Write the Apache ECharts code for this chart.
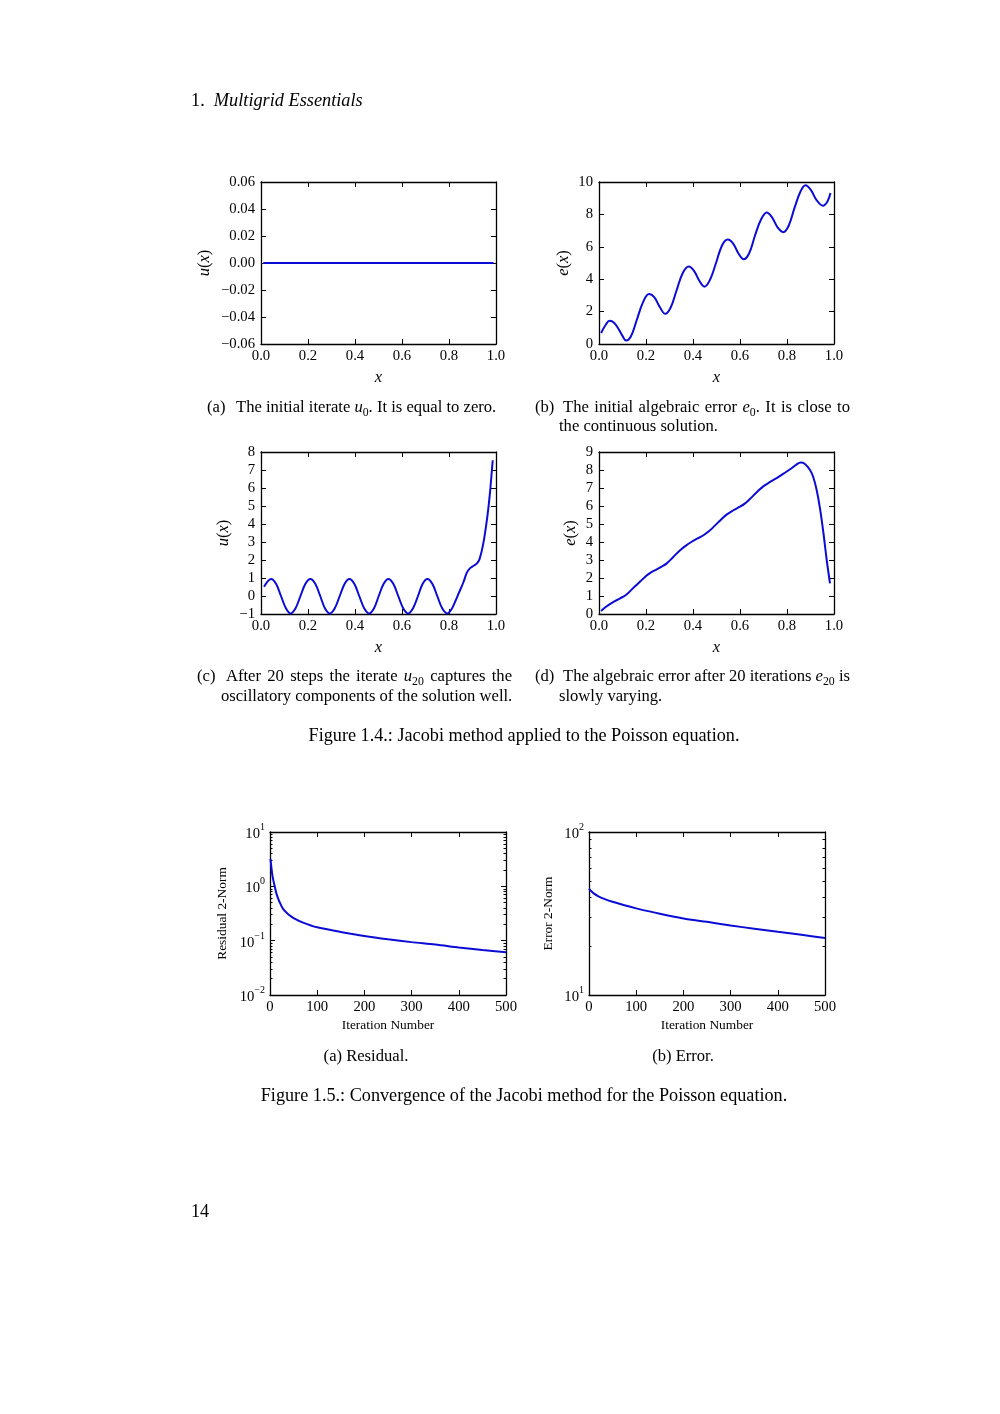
<!DOCTYPE html>
<html><head><meta charset="utf-8">
<script src="https://cdn.jsdelivr.net/npm/echarts/dist/echarts.min.js"></script>
<style>html,body{margin:0;padding:0;background:#fff}#c{width:1000px;height:1414px}</style>
</head><body><div id="c"></div>
<script>
// ---------- data ----------
// (a) initial iterate u0
const u0X = [0.01, 0.25, 0.5, 0.75, 0.99];
const u0Y = [0, 0, 0, 0, 0];
// (b) initial algebraic error e0
const e0X = [0.009,0.03,0.045,0.065,0.085,0.10,0.115,0.135,0.16,0.188,0.213,0.235,0.258,0.282,0.305,0.33,0.357,0.382,0.405,0.427,0.449,0.472,0.498,0.524,0.548,0.571,0.593,0.616,0.639,0.664,0.69,0.714,0.737,0.76,0.784,0.807,0.832,0.857,0.879,0.902,0.925,0.953,0.972,0.985];
const e0Y = [0.68,1.22,1.43,1.3,0.88,0.5,0.22,0.45,1.45,2.6,3.08,2.9,2.3,1.86,2.25,3.3,4.4,4.78,4.5,3.9,3.54,3.95,5.0,6.1,6.45,6.2,5.6,5.23,5.6,6.7,7.7,8.12,7.8,7.2,6.9,7.3,8.4,9.4,9.8,9.5,8.9,8.54,8.8,9.32];
// (c) iterate after 20 steps u20
const u20X = [0.013,0.043,0.064,0.085,0.106,0.126,0.147,0.168,0.189,0.21,0.231,0.252,0.272,0.293,0.314,0.335,0.356,0.376,0.397,0.418,0.439,0.46,0.481,0.501,0.522,0.542,0.563,0.584,0.605,0.626,0.647,0.668,0.688,0.708,0.729,0.75,0.771,0.793,0.81,0.826,0.843,0.861,0.876,0.89,0.905,0.918,0.93,0.946,0.963,0.974,0.986];
const u20Y = [0.52,0.95,0.68,0.0,-0.68,-0.97,-0.68,0.0,0.68,0.95,0.68,0.0,-0.68,-0.97,-0.68,0.0,0.68,0.95,0.68,0.0,-0.68,-0.97,-0.68,0.0,0.68,0.95,0.68,0.0,-0.68,-0.97,-0.68,0.0,0.68,0.95,0.68,0.0,-0.68,-0.97,-0.75,-0.32,0.2,0.75,1.3,1.55,1.68,1.8,2.05,2.92,4.4,5.69,7.54];
// (d) algebraic error after 20 iterations e20
const e20X = [0.009,0.03,0.06,0.09,0.116,0.15,0.175,0.199,0.22,0.244,0.265,0.287,0.315,0.344,0.37,0.393,0.42,0.443,0.47,0.493,0.52,0.543,0.57,0.6,0.62,0.642,0.67,0.699,0.73,0.756,0.785,0.813,0.84,0.858,0.875,0.898,0.912,0.926,0.94,0.955,0.969,0.983];
const e20Y = [0.17,0.4,0.66,0.87,1.07,1.5,1.8,2.1,2.3,2.47,2.62,2.8,3.15,3.53,3.8,4.0,4.2,4.36,4.62,4.91,5.25,5.52,5.75,5.96,6.13,6.39,6.75,7.09,7.35,7.55,7.8,8.04,8.3,8.41,8.35,8.0,7.6,6.9,5.9,4.5,3.0,1.7];
// Figure 1.5 (a) residual 2-norm
const resIter = [1,3,5,7,10,14,20,28,40,50,70,100,150,200,250,300,350,400,450,500];
const resNorm = [3.2,2.2,1.6,1.3,1.0,0.72,0.52,0.38,0.30,0.26,0.215,0.176,0.145,0.122,0.106,0.094,0.085,0.075,0.067,0.061];
// Figure 1.5 (b) error 2-norm
const errIter = [0,5,10,20,35,50,75,100,150,200,250,300,350,400,450,500];
const errNorm = [45,43.3,42.0,40.3,38.6,37.3,35.5,34.0,31.5,29.5,28.1,26.7,25.5,24.4,23.4,22.4];
// tick settings
const xTicks01 = {min:0, max:1, interval:0.2};
const iterTicks = {min:0, max:500, interval:100};

// ---------- build ----------
const FONT = 'Liberation Serif';
const BLUE = '#0b0bd6';
const TICKFS = 14.7;
const grids = [], xAxes = [], yAxes = [], series = [];
const minus = s => String(s).replace('-', '\u2212');
const fix = d => v => minus(Number(v).toFixed(d));
const logFmt = v => '{b|10}{s|' + minus(Math.round(Math.log10(v))) + '}';
const logRich = {
  b: {fontFamily: FONT, fontSize: TICKFS, color: '#000', lineHeight: 19, verticalAlign: 'bottom'},
  s: {fontFamily: FONT, fontSize: 10, color: '#000', lineHeight: 11, verticalAlign: 'top'}
};
const NFS = 16.5;
const nameRich = {
  i: {fontFamily: FONT, fontSize: NFS, fontStyle: 'italic', color: '#000'},
  n: {fontFamily: FONT, fontSize: NFS, color: '#000'}
};
function zip(xs, ys) { return xs.map((x, i) => [x, ys[i]]); }
function axisBase(gi) {
  return {
    gridIndex: gi,
    axisLine: {show: true, onZero: false, lineStyle: {color: '#000', width: 1.3}},
    splitLine: {show: false},
    axisTick: {show: true, inside: true, length: 5, lineStyle: {color: '#000', width: 1}},
    animation: false
  };
}
function addPanel(p) {
  const gi = grids.length;
  grids.push({left: p.box[0], top: p.box[1], width: p.box[2], height: p.box[3], containLabel: false});
  const xi = xAxes.length, yi = yAxes.length;
  const lab = {show: true, color: '#000', fontFamily: FONT, fontSize: TICKFS, showMinLabel: true, showMaxLabel: true};
  xAxes.push(Object.assign(axisBase(gi), {
    type: 'value', position: 'bottom', min: p.x.min, max: p.x.max, interval: p.x.interval,
    axisLabel: Object.assign({}, lab, {margin: 5, formatter: p.xfmt}),
    name: p.xname, nameLocation: 'middle', nameGap: p.xgap,
    nameTextStyle: p.xnameStyle
  }));
  xAxes.push(Object.assign(axisBase(gi), {
    type: 'value', position: 'top', min: p.x.min, max: p.x.max, interval: p.x.interval,
    axisLabel: {show: false}
  }));
  const yCommon = p.log
    ? {type: 'log', logBase: 10, min: p.y.min, max: p.y.max,
       minorTick: {show: true, splitNumber: 9, length: 2.5, lineStyle: {color: '#000', width: 1}}}
    : {type: 'value', min: p.y.min, max: p.y.max, interval: p.y.interval};
  yAxes.push(Object.assign(axisBase(gi), yCommon, {
    position: 'left',
    axisLabel: p.log ? Object.assign({}, lab, {margin: 5, formatter: logFmt, rich: logRich})
                     : Object.assign({}, lab, {margin: 6, formatter: p.yfmt}),
    name: p.yname, nameLocation: 'middle', nameGap: p.ygap, nameRotate: 90,
    nameTextStyle: p.ynameStyle
  }));
  yAxes.push(Object.assign(axisBase(gi), yCommon, {position: 'right', axisLabel: {show: false}}));
  series.push({
    type: 'line', xAxisIndex: xi, yAxisIndex: yi, data: zip(p.xs, p.ys),
    showSymbol: false, smooth: p.smooth, silent: true, animation: false,
    lineStyle: {color: BLUE, width: 2}, clip: true
  });
}
const mathName = {rich: nameRich, fontFamily: FONT, fontSize: NFS, color: '#000'};
const xName = {fontFamily: FONT, fontSize: NFS, fontStyle: 'italic', color: '#000'};
const textName = {fontFamily: FONT, fontSize: 13.4, color: '#000'};

addPanel({box: [261, 182, 235, 162], x: xTicks01, y: {min: -0.06, max: 0.06, interval: 0.02},
  xfmt: fix(1), yfmt: fix(2), xname: 'x', xgap: 25, xnameStyle: xName,
  yname: '{i|u}{n|(}{i|x}{n|)}', ygap: 48, ynameStyle: mathName, xs: u0X, ys: u0Y, smooth: false});
addPanel({box: [599, 182, 235, 162], x: xTicks01, y: {min: 0, max: 10, interval: 2},
  xfmt: fix(1), yfmt: fix(0), xname: 'x', xgap: 25, xnameStyle: xName,
  yname: '{i|e}{n|(}{i|x}{n|)}', ygap: 27, ynameStyle: mathName, xs: e0X, ys: e0Y, smooth: 0.4});
addPanel({box: [261, 452, 235, 162], x: xTicks01, y: {min: -1, max: 8, interval: 1},
  xfmt: fix(1), yfmt: fix(0), xname: 'x', xgap: 25, xnameStyle: xName,
  yname: '{i|u}{n|(}{i|x}{n|)}', ygap: 29, ynameStyle: mathName, xs: u20X, ys: u20Y, smooth: 0.35});
addPanel({box: [599, 452, 235, 162], x: xTicks01, y: {min: 0, max: 9, interval: 1},
  xfmt: fix(1), yfmt: fix(0), xname: 'x', xgap: 25, xnameStyle: xName,
  yname: '{i|e}{n|(}{i|x}{n|)}', ygap: 20, ynameStyle: mathName, xs: e20X, ys: e20Y, smooth: 0.4});
addPanel({box: [270, 832, 236, 163], x: iterTicks, y: {min: 0.01, max: 10}, log: true,
  xfmt: v => String(v), xname: 'Iteration Number', xgap: 24, xnameStyle: textName,
  yname: 'Residual 2-Norm', ygap: 41, ynameStyle: textName, xs: resIter, ys: resNorm, smooth: 0.3});
addPanel({box: [589, 832, 236, 163], x: iterTicks, y: {min: 10, max: 100}, log: true,
  xfmt: v => String(v), xname: 'Iteration Number', xgap: 24, xnameStyle: textName,
  yname: 'Error 2-Norm', ygap: 34, ynameStyle: textName, xs: errIter, ys: errNorm, smooth: 0.3});

// ---------- page texts ----------
const CAP = 16.6;
const capRich = {
  t: {fontFamily: FONT, fontSize: CAP, color: '#000', lineHeight: 22},
  i: {fontFamily: FONT, fontSize: CAP, fontStyle: 'italic', color: '#000', lineHeight: 22},
  sub: {fontFamily: FONT, fontSize: 11.8, color: '#000', lineHeight: 13, verticalAlign: 'bottom'},
  h: {fontFamily: FONT, fontSize: 18.3, color: '#000', lineHeight: 24},
  hi: {fontFamily: FONT, fontSize: 18.3, fontStyle: 'italic', color: '#000', lineHeight: 24},
  f: {fontFamily: FONT, fontSize: 18.2, color: '#000', lineHeight: 24}
};
function txt(x, y, text, align) {
  return {type: 'text', silent: true, style: {x: x, y: y, text: text, rich: capRich,
    align: align || 'left', verticalAlign: 'middle', fontFamily: FONT, fontSize: CAP, fill: '#000'}};
}
// measuring helper for justified caption lines
const mctx = document.createElement('canvas').getContext('2d');
function richWidth(s) {
  let w = 0; const re = /\{(\w+)\|([^}]*)\}/g; let m;
  while ((m = re.exec(s))) {
    const st = capRich[m[1]];
    mctx.font = (st.fontStyle === 'italic' ? 'italic ' : '') + st.fontSize + 'px "' + FONT + '"';
    w += mctx.measureText(m[2]).width;
  }
  return w;
}
function justify(x0, x1, y, words) {
  const ws = words.map(richWidth);
  const total = ws.reduce((a, b) => a + b, 0);
  const gap = (x1 - x0 - total) / (words.length - 1);
  const out = []; let x = x0;
  words.forEach((w, i) => { out.push(txt(x, y, w)); x += ws[i] + gap; });
  return out;
}
const T = s => s.split(' ').map(w => '{t|' + w + '}');
const graphics = [
  txt(191, 101, '{h|1.  }{hi|Multigrid Essentials}'),
  txt(207, 408, '{t|(a)}'),
  txt(236, 408, '{t|The initial iterate }{i|u}{sub|0}{t|. It is equal to zero.}'),
  txt(535, 408, '{t|(b)}'),
  ...justify(563, 850, 408, [...T('The initial algebraic error'), '{i|e}{sub|0}{t|.}', ...T('It is close to')]),
  txt(559, 427, '{t|the continuous solution.}'),
  txt(197, 677, '{t|(c)}'),
  ...justify(226, 512, 677, [...T('After 20 steps the iterate'), '{i|u}{sub|20}', ...T('captures the')]),
  txt(221, 697, '{t|oscillatory components of the solution well.}'),
  txt(535, 677, '{t|(d)}'),
  ...justify(563, 850, 677, [...T('The algebraic error after 20 iterations'), '{i|e}{sub|20}', '{t|is}']),
  txt(559, 697, '{t|slowly varying.}'),
  txt(524, 736, '{f|Figure 1.4.: Jacobi method applied to the Poisson equation.}', 'center'),
  txt(366, 1057, '{t|(a) Residual.}', 'center'),
  txt(683, 1057, '{t|(b) Error.}', 'center'),
  txt(524, 1096, '{f|Figure 1.5.: Convergence of the Jacobi method for the Poisson equation.}', 'center'),
  txt(191, 1212, '{f|14}')
];

const chart = echarts.init(document.getElementById('c'), null, {renderer: 'canvas'});
chart.setOption({
  backgroundColor: '#fff',
  animation: false,
  grid: grids, xAxis: xAxes, yAxis: yAxes, series: series,
  graphic: graphics
});
</script>
</body></html>
